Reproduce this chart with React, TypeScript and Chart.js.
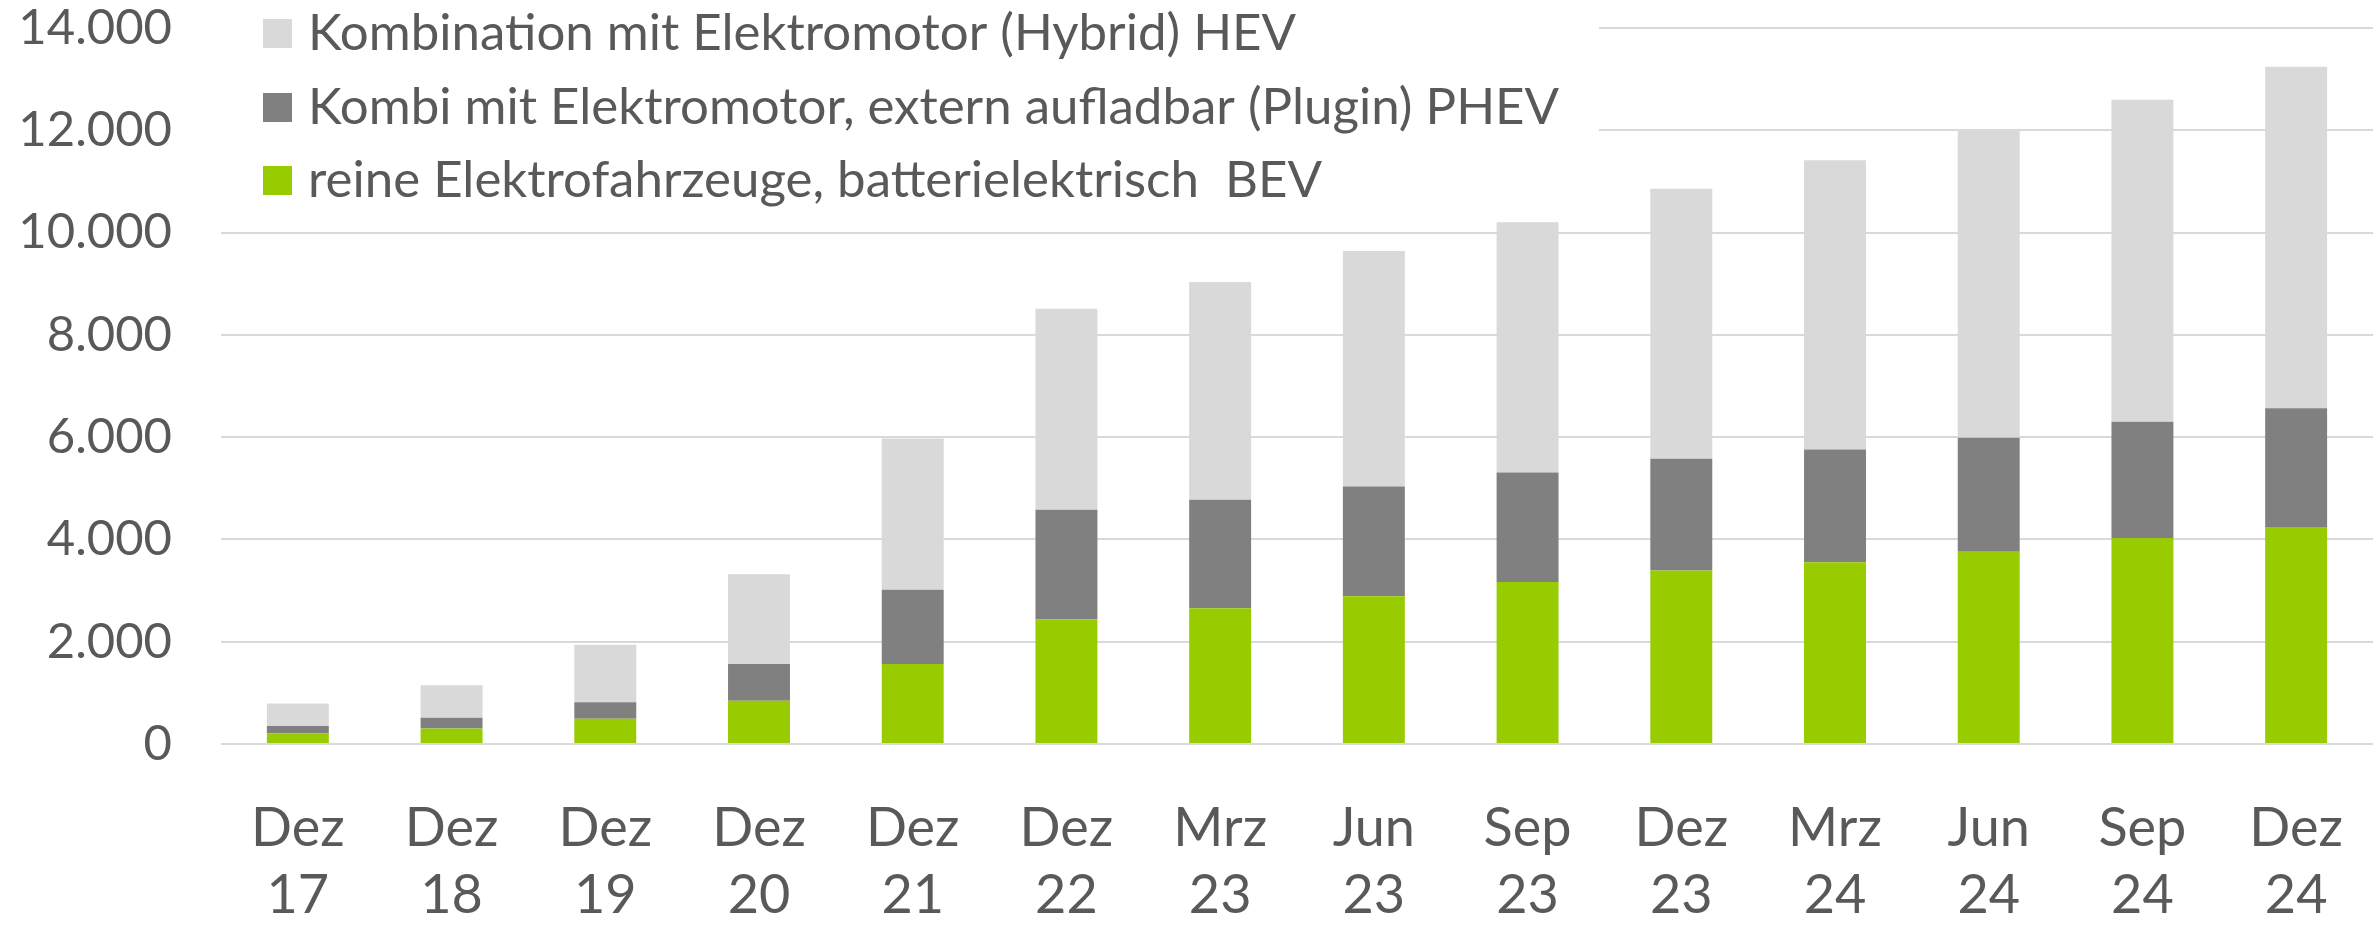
import React, { useEffect, useRef } from 'react';
import { Chart, registerables } from 'chart.js';

Chart.register(...registerables);

// Category labels (two lines: month / year)
const months = ['Dez', 'Dez', 'Dez', 'Dez', 'Dez', 'Dez', 'Mrz', 'Jun', 'Sep', 'Dez', 'Mrz', 'Jun', 'Sep', 'Dez'];
const years = ['17', '18', '19', '20', '21', '22', '23', '23', '23', '23', '24', '24', '24', '24'];

// Series values (stack segments)
const bevValues = [208, 305, 494, 844, 1564, 2436, 2654, 2891, 3166, 3391, 3552, 3761, 4026, 4244];
const phevValues = [143, 208, 324, 720, 1450, 2142, 2123, 2142, 2142, 2188, 2207, 2226, 2273, 2320];
const hevValues = [441, 636, 1124, 1754, 2958, 3934, 4256, 4607, 4892, 5277, 5655, 6024, 6299, 6678];

const bevLabel = 'reine Elektrofahrzeuge, batterielektrisch  BEV';
const phevLabel = 'Kombi mit Elektromotor, extern aufladbar (Plugin) PHEV';
const hevLabel = 'Kombination mit Elektromotor (Hybrid) HEV';

const yMin = 0;
const yMax = 14000;
const yStep = 2000;

const FONT = 'Lato, "Open Sans", "Liberation Sans", sans-serif';
const TEXT = '#595959';

function fmt(v: number): string {
  return String(Math.round(v)).replace(/\B(?=(\d{3})+(?!\d))/g, '.');
}

const insideLegend = {
  id: 'insideLegend',
  beforeDatasetsDraw(chart: any) {
    const ctx = chart.ctx as CanvasRenderingContext2D;
    const area = chart.chartArea;
    const items = chart.data.datasets.slice().reverse();
    ctx.save();
    ctx.font = `400 51px ${FONT}`;
    let maxW = 0;
    items.forEach((ds: any) => {
      maxW = Math.max(maxW, ctx.measureText(ds.label).width);
    });
    const textX = 308;
    const boxRight = textX + maxW + 40;
    ctx.fillStyle = '#ffffff';
    ctx.fillRect(area.left - 2, 0, boxRight - area.left + 2, 215);
    items.forEach((ds: any, i: number) => {
      const y = 19 + i * 73.5;
      ctx.fillStyle = ds.backgroundColor;
      ctx.fillRect(263, Math.round(y), 29, 29);
      ctx.fillStyle = TEXT;
      ctx.textBaseline = 'alphabetic';
      ctx.textAlign = 'left';
      ctx.fillText(ds.label, textX, Math.round(y) + 31);
    });
    ctx.restore();
  },
};

export default function App() {
  const canvasRef = useRef<HTMLCanvasElement | null>(null);

  useEffect(() => {
    document.body.style.margin = '0';
    const canvas = canvasRef.current;
    if (!canvas) return;
    const labels = months.map((m, i) => [m, years[i]]);
    const chart = new Chart(canvas, {
      type: 'bar',
      data: {
        labels,
        datasets: [
          { label: bevLabel, data: bevValues, backgroundColor: '#99CC00', borderWidth: 0 },
          { label: phevLabel, data: phevValues, backgroundColor: '#808080', borderWidth: 0 },
          { label: hevLabel, data: hevValues, backgroundColor: '#D9D9D9', borderWidth: 0 },
        ],
      },
      options: {
        animation: false,
        responsive: true,
        maintainAspectRatio: false,
        layout: { padding: { top: 28, right: 4, left: 0, bottom: 0 } },
        datasets: { bar: { barPercentage: 0.403, categoryPercentage: 1.0 } },
        plugins: {
          legend: { display: false },
          tooltip: { enabled: false },
          title: { display: false },
        },
        scales: {
          x: {
            stacked: true,
            grid: { display: false, drawTicks: false },
            border: { display: false },
            ticks: {
              color: TEXT,
              font: { family: FONT, size: 54, lineHeight: 1.24 },
              padding: 51,
              maxRotation: 0,
              autoSkip: false,
            },
            afterFit: (scale: any) => {
              scale.height = 182;
              scale.paddingLeft = 0;
              scale.paddingRight = 0;
            },
          },
          y: {
            stacked: true,
            min: yMin,
            max: yMax,
            grid: { color: '#D9D9D9', lineWidth: 2, drawTicks: false },
            border: { display: false },
            ticks: {
              stepSize: yStep,
              color: TEXT,
              font: { family: FONT, size: 49 },
              padding: 49,
              callback: (v: any) => fmt(Number(v)),
            },
            afterFit: (scale: any) => {
              scale.width = 221;
              scale.paddingTop = 0;
              scale.paddingBottom = 0;
            },
          },
        },
      },
      plugins: [insideLegend],
    });
    return () => chart.destroy();
  }, []);

  return (
    <div style={{ position: 'fixed', left: 0, top: 0, width: 2377, height: 926, background: '#fff' }}>
      <canvas ref={canvasRef} />
    </div>
  );
}
